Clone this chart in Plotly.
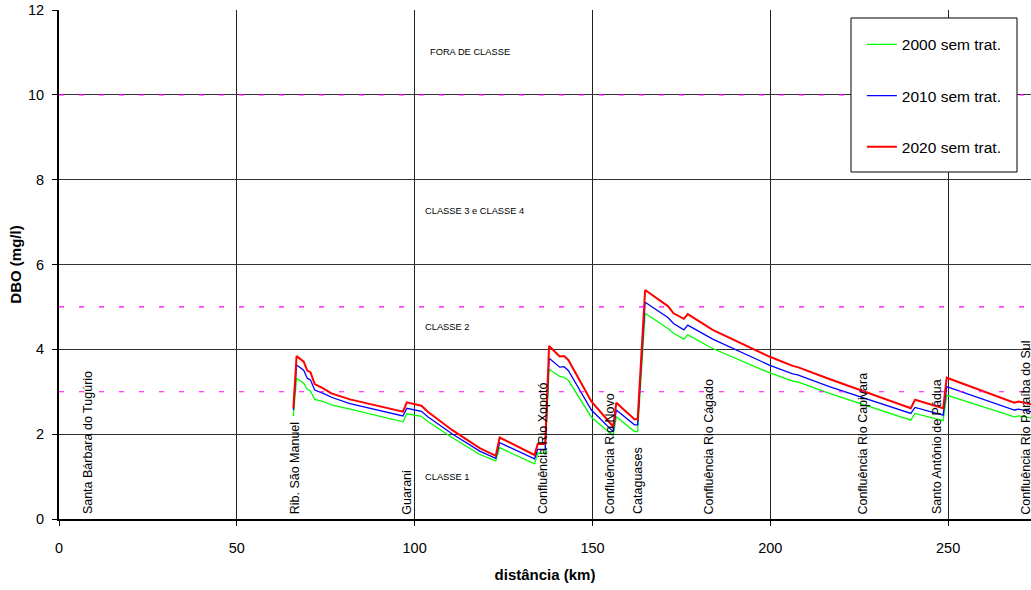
import plotly.graph_objects as go

# distance along the river (km), shared by the three scenarios
dist_km = [65.9, 66.8, 68.8, 69.8, 70.7, 71.9, 74.3, 76.6, 81.8, 96.7,
           97.8, 99.5, 101.9, 103.7, 110.5, 118.3, 122.8, 123.9, 133.7, 134.6,
           136.7, 137.8, 140.8, 142.0, 143.2, 149.7, 155.8, 156.7, 161.8, 162.7,
           164.8, 171.2, 172.8, 175.7, 176.8, 183.8, 199.7, 206.3, 207.7, 216.6,
           239.5, 240.7, 248.6, 249.6, 268.6, 269.8, 273.5]

dbo_2020 = [2.62, 3.84, 3.71, 3.50, 3.46, 3.18, 3.08, 2.96, 2.82, 2.53,
            2.75, 2.71, 2.67, 2.53, 2.10, 1.67, 1.49, 1.92, 1.51, 1.77,
            1.77, 4.08, 3.83, 3.84, 3.75, 2.77, 2.18, 2.74, 2.35, 2.35,
            5.40, 5.02, 4.85, 4.72, 4.83, 4.46, 3.83, 3.61, 3.58, 3.30,
            2.61, 2.81, 2.61, 3.33, 2.74, 2.77, 2.70]

dbo_2010 = [2.57, 3.63, 3.51, 3.32, 3.28, 3.04, 2.96, 2.87, 2.72, 2.43,
            2.61, 2.58, 2.54, 2.41, 2.01, 1.60, 1.43, 1.80, 1.42, 1.64,
            1.64, 3.79, 3.58, 3.59, 3.50, 2.57, 2.06, 2.57, 2.22, 2.22,
            5.11, 4.75, 4.61, 4.46, 4.57, 4.24, 3.63, 3.42, 3.40, 3.12,
            2.49, 2.63, 2.45, 3.12, 2.57, 2.59, 2.53]

dbo_2000 = [2.43, 3.32, 3.20, 3.06, 3.02, 2.82, 2.77, 2.69, 2.59, 2.29,
            2.48, 2.46, 2.42, 2.30, 1.92, 1.52, 1.37, 1.68, 1.30, 1.55,
            1.55, 3.53, 3.36, 3.34, 3.27, 2.40, 1.96, 2.41, 2.06, 2.06,
            4.85, 4.49, 4.38, 4.24, 4.34, 4.02, 3.45, 3.25, 3.23, 2.96,
            2.33, 2.49, 2.32, 2.92, 2.41, 2.43, 2.38]

series_names = ["2000 sem trat.", "2010 sem trat.", "2020 sem trat."]

# places along the river
place_names = ["Santa Bárbara do Tugúrio", "Rib. São Manuel", "Guarani",
               "Confluência Rio Xopotó", "Confluência Rio Novo", "Cataguases",
               "Confluência Rio Cágado", "Confluência Rio Capivara",
               "Santo Antônio de Pádua", "Confluência Rio Paraíba do Sul"]
place_km = [8.2, 66.6, 97.9, 136.1, 155.0, 162.8, 182.8, 226.1, 246.9, 272.0]

# water-quality class limits (mg/l) and labels
class_limits = [3, 5, 10]
class_names = ["FORA DE CLASSE", "CLASSE 3 e CLASSE 4", "CLASSE 2", "CLASSE 1"]
class_label_y = [11.0, 7.26, 4.53, 0.99]
class_label_x = [103.8, 102.4, 102.4, 102.4]

x_ticks = [0, 50, 100, 150, 200, 250]
y_ticks = [0, 2, 4, 6, 8, 10, 12]

FONT = "Liberation Sans, Arial, sans-serif"

fig = go.Figure()
colors = ["#00FF00", "#0000FF", "#FF0000"]
widths = [1.3, 1.3, 2]
for name, ys, c, w in zip(series_names, [dbo_2000, dbo_2010, dbo_2020], colors, widths):
    fig.add_trace(go.Scatter(x=dist_km, y=ys, mode="lines", name=name,
                             legendgroup=name,
                             line=dict(color=c, width=w)))

shapes = []
for lim in class_limits:
    shapes.append(dict(type="line", xref="paper", yref="y", x0=0, x1=1, y0=lim, y1=lim,
                       line=dict(color="#FF00FF", width=1.2, dash="5px,15px"), layer="above"))
# legend box
shapes.append(dict(type="rect", xref="paper", yref="paper", x0=0.8148, x1=0.9856,
                   y0=0.6817, y1=0.9843, fillcolor="white",
                   line=dict(color="black", width=1), layer="above"))

annotations = []
for n, k in zip(place_names, place_km):
    annotations.append(dict(x=k, y=0.06, xref="x", yref="y", text=n, textangle=-90,
                            showarrow=False, xanchor="center", yanchor="bottom",
                            font=dict(family=FONT, size=12.5, color="black")))
for n, cx, cy in zip(class_names, class_label_x, class_label_y):
    annotations.append(dict(x=cx, y=cy, xref="x", yref="y", text=n, showarrow=False,
                            xanchor="left", yanchor="middle",
                            font=dict(family=FONT, size=9.3, color="black")))

fig.update_layout(
    width=1031, height=590,
    margin=dict(l=59, r=0, t=10, b=71),
    paper_bgcolor="white", plot_bgcolor="white",
    font=dict(family=FONT, size=14, color="black"),
    showlegend=True,
    legend=dict(x=0.826, y=0.965, xanchor="left", yanchor="top",
                bgcolor="rgba(0,0,0,0)", borderwidth=0,
                font=dict(family=FONT, size=15.5, color="black"),
                tracegroupgap=28, itemwidth=30),
    shapes=shapes, annotations=annotations,
    xaxis=dict(range=[0, 273.3], tickvals=x_ticks, ticks="outside", ticklen=5,
               tickcolor="black", showline=True, linecolor="black", linewidth=2,
               showgrid=True, gridcolor="#222222", gridwidth=1, zeroline=False,
               ticklabelstandoff=10, tickfont=dict(family=FONT, size=14.5),
               title=dict(text="<b>distância (km)</b>", standoff=14,
                          font=dict(family=FONT, size=15))),
    yaxis=dict(range=[0, 12], tickvals=y_ticks, ticks="outside", ticklen=5,
               tickcolor="black", showline=True, linecolor="black", linewidth=2,
               showgrid=True, gridcolor="#333333", gridwidth=1, zeroline=False,
               ticklabelstandoff=5, tickfont=dict(family=FONT, size=14.5),
               title=dict(text="<b>DBO (mg/l)</b>", standoff=3,
                          font=dict(family=FONT, size=15))),
)

# remove the default 8 px page margin so the figure fills the window exactly
fig.write_html("out.html", config={"displayModeBar": False},
               post_script="document.body.style.margin='0px';document.body.style.overflow='hidden';")
